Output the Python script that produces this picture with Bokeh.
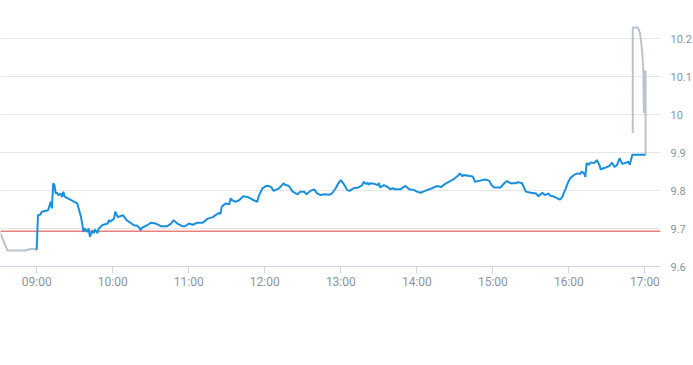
import pandas as pd
from bokeh.plotting import figure
from bokeh.models import (Range1d, FixedTicker, DatetimeTickFormatter,
                          CustomJSTickFormatter, Span, ColumnDataSource)
from bokeh.embed import file_html
from bokeh.resources import INLINE

DAY = "2024-01-02 "

# pre-market (grey)
pre_times = ["08:31:00", "08:37:00", "08:51:00", "08:55:00", "08:59:00", "09:00:00"]
pre_values = [9.690, 9.642, 9.642, 9.646, 9.646, 9.642]

# regular session (blue)
main_times = [
    "09:00", "09:01", "09:03", "09:04", "09:09", "09:11", "09:12", "09:13", "09:14", "09:15",
    "09:16", "09:17", "09:19", "09:20", "09:21", "09:22", "09:32", "09:35", "09:37", "09:38",
    "09:40", "09:41", "09:42", "09:44", "09:45", "09:46", "09:48", "09:49", "09:52", "09:56",
    "09:57", "09:58", "10:01", "10:02", "10:04", "10:08", "10:11", "10:17", "10:19", "10:21",
    "10:22", "10:23", "10:27", "10:30", "10:34", "10:38", "10:43", "10:46", "10:48", "10:51",
    "10:55", "10:57", "11:00", "11:03", "11:07", "11:11", "11:15", "11:19", "11:21", "11:24",
    "11:25", "11:26", "11:29", "11:32", "11:33", "11:34", "11:37", "11:40", "11:43", "11:47",
    "11:51", "11:54", "11:55", "11:58", "12:01", "12:03", "12:05", "12:07", "12:11", "12:15",
    "12:16", "12:19", "12:22", "12:26", "12:28", "12:31", "12:33", "12:36", "12:39", "12:41",
    "12:44", "12:47", "12:51", "12:53", "12:56", "12:58", "13:00", "13:02", "13:05", "13:07",
    "13:10", "13:14", "13:17", "13:18", "13:20", "13:21", "13:22", "13:23", "13:26", "13:29",
    "13:30", "13:31", "13:34", "13:37", "13:39", "13:41", "13:43", "13:47", "13:51", "13:54",
    "13:58", "14:00", "14:03", "14:05", "14:08", "14:12", "14:16", "14:19", "14:23", "14:27",
    "14:30", "14:33", "14:34", "14:36", "14:37", "14:44", "14:46", "14:50", "14:54", "14:57",
    "14:59", "15:01", "15:06", "15:09", "15:11", "15:14", "15:18", "15:20", "15:23", "15:26",
    "15:30", "15:34", "15:36", "15:39", "15:41", "15:44", "15:45", "15:48", "15:51", "15:53",
    "15:55", "15:56", "15:57", "15:59", "16:01", "16:04", "16:07", "16:09", "16:10", "16:12",
    "16:13", "16:14", "16:16", "16:17", "16:20", "16:22", "16:24", "16:25", "16:28", "16:32",
    "16:34", "16:36", "16:38", "16:40", "16:42", "16:45", "16:47", "16:48", "16:49", "16:50",
    "17:00:30",
]
main_values = [
    9.644, 9.735, 9.737, 9.744, 9.748, 9.770, 9.753, 9.819, 9.815, 9.792,
    9.795, 9.788, 9.792, 9.783, 9.797, 9.784, 9.766, 9.730, 9.691, 9.700,
    9.691, 9.700, 9.678, 9.695, 9.688, 9.697, 9.688, 9.700, 9.709, 9.713,
    9.722, 9.718, 9.726, 9.744, 9.730, 9.735, 9.722, 9.708, 9.708, 9.702,
    9.695, 9.702, 9.708, 9.715, 9.713, 9.706, 9.706, 9.713, 9.722, 9.713,
    9.706, 9.706, 9.713, 9.710, 9.715, 9.715, 9.726, 9.730, 9.735, 9.741,
    9.738, 9.757, 9.766, 9.764, 9.779, 9.775, 9.770, 9.775, 9.785, 9.782,
    9.775, 9.770, 9.783, 9.805, 9.812, 9.812, 9.809, 9.799, 9.805, 9.819,
    9.815, 9.812, 9.797, 9.790, 9.797, 9.797, 9.790, 9.799, 9.803, 9.793,
    9.788, 9.790, 9.789, 9.792, 9.806, 9.819, 9.827, 9.819, 9.801, 9.799,
    9.806, 9.808, 9.814, 9.823, 9.817, 9.820, 9.815, 9.819, 9.818, 9.814,
    9.820, 9.808, 9.814, 9.809, 9.803, 9.806, 9.803, 9.803, 9.812, 9.803,
    9.801, 9.797, 9.794, 9.797, 9.801, 9.806, 9.812, 9.809, 9.819, 9.826,
    9.832, 9.841, 9.845, 9.837, 9.841, 9.837, 9.823, 9.826, 9.829, 9.826,
    9.814, 9.808, 9.808, 9.819, 9.825, 9.819, 9.819, 9.822, 9.819, 9.797,
    9.794, 9.792, 9.785, 9.794, 9.788, 9.792, 9.787, 9.784, 9.779, 9.776,
    9.784, 9.794, 9.801, 9.819, 9.832, 9.841, 9.845, 9.843, 9.850, 9.845,
    9.836, 9.872, 9.868, 9.874, 9.872, 9.880, 9.868, 9.856, 9.859, 9.865,
    9.873, 9.862, 9.867, 9.885, 9.870, 9.873, 9.876, 9.868, 9.880, 9.894,
    9.894,
]

# closing auction / after-hours (grey)
post_times = ["16:50:24", "16:50:24", "16:51:12", "16:54:24", "16:56:00", "16:57:06",
              "16:57:54", "16:58:42", "16:59:12", "17:00:00", "17:00:30", "17:00:30"]
post_values = [9.951, 10.229, 10.229, 10.229, 10.215, 10.189,
               10.163, 10.119, 10.004, 10.114, 10.114, 9.894]

prev_close = 9.693

x_tick_labels = ["09:00", "10:00", "11:00", "12:00", "13:00", "14:00", "15:00", "16:00", "17:00"]
y_ticks = [9.6, 9.7, 9.8, 9.9, 10.0, 10.1, 10.2]

x_start = "08:31:26"
x_end = "17:12:17"
y_start, y_end = 9.6, 10.3


def ts(times):
    return [pd.Timestamp(DAY + t) for t in times]


LABEL_FONT = "Roboto"
LABEL_COLOR = "#8a949e"

p = figure(
    frame_width=660, frame_height=266,
    x_axis_type="datetime", y_axis_location="right",
    x_range=Range1d(pd.Timestamp(DAY + x_start), pd.Timestamp(DAY + x_end)),
    y_range=Range1d(y_start, y_end),
    output_backend="svg", toolbar_location=None,
    min_border_left=0, min_border_top=0, min_border_right=25, min_border_bottom=30,
    background_fill_color="white", border_fill_color="white",
)
p.outline_line_color = None

# grid
p.xgrid.grid_line_color = None
p.ygrid.grid_line_color = "#e6e6e6"
p.ygrid.grid_line_width = 1

# y axis (right)
p.yaxis.ticker = FixedTicker(ticks=y_ticks)
p.yaxis.formatter = CustomJSTickFormatter(code="return (Math.round(tick*10)/10).toString();")
p.yaxis.axis_line_color = None
p.yaxis.major_tick_line_color = None
p.yaxis.minor_tick_line_color = None
p.yaxis.major_label_standoff = 4
p.yaxis.major_label_text_font = LABEL_FONT
p.yaxis.major_label_text_font_size = "11px"
p.yaxis.major_label_text_color = LABEL_COLOR

# x axis
x_ticks_ms = [pd.Timestamp(DAY + t).value / 1e6 for t in x_tick_labels]
p.xaxis.ticker = FixedTicker(ticks=x_ticks_ms)
p.xaxis.formatter = DatetimeTickFormatter(hours="%H:%M", hourmin="%H:%M", minutes="%H:%M", days="%H:%M")
p.xaxis.axis_line_color = "#ccd6eb"
p.xaxis.major_tick_line_color = "#ccd6eb"
p.xaxis.major_tick_out = 7
p.xaxis.major_tick_in = 0
p.xaxis.minor_tick_line_color = None
p.xaxis.major_label_standoff = 1
p.xaxis.major_label_text_font = LABEL_FONT
p.xaxis.major_label_text_font_size = "12px"
p.xaxis.major_label_text_color = LABEL_COLOR

# previous close
p.add_layout(Span(location=prev_close, dimension="width", line_color="#e0403a",
                  line_width=1, level="underlay"))

pre_src = ColumnDataSource(dict(t=ts(pre_times), v=pre_values))
main_src = ColumnDataSource(dict(t=ts(main_times), v=main_values))
post_src = ColumnDataSource(dict(t=ts(post_times), v=post_values))

p.line("t", "v", source=pre_src, line_color="#b9c4ce", line_width=2)
p.line("t", "v", source=post_src, line_color="#b9c4ce", line_width=2)
p.line("t", "v", source=main_src, line_color="#1a8fdd", line_width=2)

open("out.html", "w").write(file_html(p, INLINE))
